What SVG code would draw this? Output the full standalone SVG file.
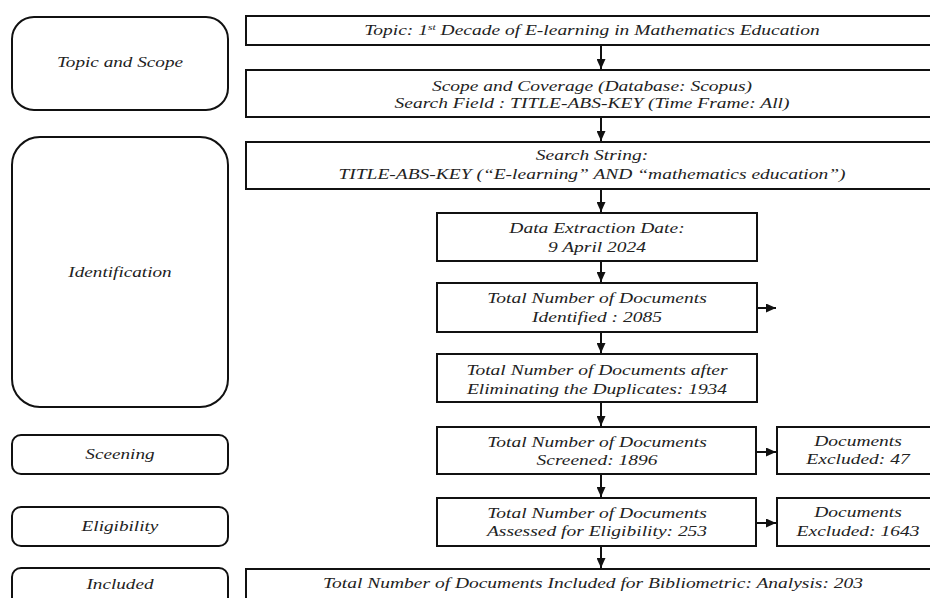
<svg xmlns="http://www.w3.org/2000/svg" width="930" height="598" viewBox="0 0 930 598">
<defs>
<style>
.box{fill:#fff;stroke:#111;stroke-width:2}
.stage{fill:#fff;stroke:#111;stroke-width:2}
.t{font-family:"Liberation Serif","Times New Roman",serif;font-style:italic;font-size:15px;fill:#222;text-anchor:middle}
.c{fill:none;stroke:#111;stroke-width:2}
</style>
<marker id="ah" markerUnits="userSpaceOnUse" markerWidth="11" markerHeight="9" refX="10" refY="4.5" orient="auto">
<path d="M0,0 L10,4.5 L0,9 Z" fill="#111"/>
</marker>
</defs>
<rect width="930" height="598" fill="#fff"/>

<g id="stage-topic"><rect class="stage" x="12" y="17" width="216" height="93" rx="22"/><text class="t" transform="translate(120 67) scale(1.28 1)">Topic and Scope</text></g>
<g id="stage-identification"><rect class="stage" x="12" y="137" width="216" height="270" rx="28"/><text class="t" transform="translate(120 277) scale(1.28 1)">Identification</text></g>
<g id="stage-screening"><rect class="stage" x="12" y="435" width="216" height="39" rx="9"/><text class="t" transform="translate(120 459) scale(1.28 1)">Sceening</text></g>
<g id="stage-eligibility"><rect class="stage" x="12" y="507" width="216" height="39" rx="9"/><text class="t" transform="translate(120 531) scale(1.28 1)">Eligibility</text></g>
<g id="stage-included"><rect class="stage" x="12" y="568" width="216" height="40" rx="9"/><text class="t" transform="translate(120 589) scale(1.28 1)">Included</text></g>

<g id="topic"><rect class="box" x="246" y="16" width="700" height="29"/><text class="t" transform="translate(592 35) scale(1.3 1)">Topic: 1<tspan font-size="9" dy="-5">st</tspan><tspan dy="5"> Decade of E-learning in Mathematics Education</tspan></text></g>
<g id="scope"><rect class="box" x="246" y="70" width="700" height="47"/><text class="t" transform="translate(592 91) scale(1.3 1)">Scope and Coverage (Database: Scopus)</text><text class="t" transform="translate(592 108) scale(1.3 1)">Search Field : TITLE-ABS-KEY (Time Frame: All)</text></g>
<g id="search"><rect class="box" x="246" y="142" width="700" height="47"/><text class="t" transform="translate(592 160) scale(1.3 1)">Search String:</text><text class="t" transform="translate(592 179) scale(1.3 1)">TITLE-ABS-KEY (“E-learning” AND “mathematics education”)</text></g>
<g id="extraction"><rect class="box" x="437" y="213" width="320" height="48"/><text class="t" transform="translate(597 233) scale(1.3 1)">Data Extraction Date:</text><text class="t" transform="translate(597 252) scale(1.3 1)">9 April 2024</text></g>
<g id="identified"><rect class="box" x="437" y="283" width="320" height="49"/><text class="t" transform="translate(597 303) scale(1.3 1)">Total Number of Documents</text><text class="t" transform="translate(597 322) scale(1.3 1)">Identified : 2085</text></g>
<g id="duplicates"><rect class="box" x="437" y="354" width="320" height="48"/><text class="t" transform="translate(597 375) scale(1.3 1)">Total Number of Documents after</text><text class="t" transform="translate(597 394) scale(1.3 1)">Eliminating the Duplicates: 1934</text></g>
<g id="screened"><rect class="box" x="437" y="427" width="319" height="47"/><text class="t" transform="translate(597 447) scale(1.3 1)">Total Number of Documents</text><text class="t" transform="translate(597 465) scale(1.3 1)">Screened: 1896</text></g>
<g id="excluded47"><rect class="box" x="777" y="427" width="170" height="47"/><text class="t" transform="translate(858 446) scale(1.3 1)">Documents</text><text class="t" transform="translate(858 464) scale(1.3 1)">Excluded: 47</text></g>
<g id="assessed"><rect class="box" x="437" y="498" width="319" height="48"/><text class="t" transform="translate(597 518) scale(1.3 1)">Total Number of Documents</text><text class="t" transform="translate(597 536) scale(1.3 1)">Assessed for Eligibility: 253</text></g>
<g id="excluded1643"><rect class="box" x="777" y="498" width="170" height="48"/><text class="t" transform="translate(858 517) scale(1.3 1)">Documents</text><text class="t" transform="translate(858 536) scale(1.3 1)">Excluded: 1643</text></g>
<g id="included"><rect class="box" x="246" y="569" width="700" height="40"/><text class="t" transform="translate(593 588) scale(1.3 1)">Total Number of Documents Included for Bibliometric: Analysis: 203</text></g>

<g id="connectors">
<line class="c" x1="601" y1="45" x2="601" y2="69" marker-end="url(#ah)"/>
<line class="c" x1="601" y1="117" x2="601" y2="141" marker-end="url(#ah)"/>
<line class="c" x1="601" y1="189" x2="601" y2="212" marker-end="url(#ah)"/>
<line class="c" x1="601" y1="261" x2="601" y2="282" marker-end="url(#ah)"/>
<line class="c" x1="757" y1="308" x2="776" y2="308" marker-end="url(#ah)"/>
<line class="c" x1="601" y1="332" x2="601" y2="353" marker-end="url(#ah)"/>
<line class="c" x1="601" y1="402" x2="601" y2="426" marker-end="url(#ah)"/>
<line class="c" x1="756" y1="452" x2="776" y2="452" marker-end="url(#ah)"/>
<line class="c" x1="601" y1="474" x2="601" y2="497" marker-end="url(#ah)"/>
<line class="c" x1="756" y1="523" x2="776" y2="523" marker-end="url(#ah)"/>
<line class="c" x1="601" y1="546" x2="601" y2="568" marker-end="url(#ah)"/>
</g>
</svg>
